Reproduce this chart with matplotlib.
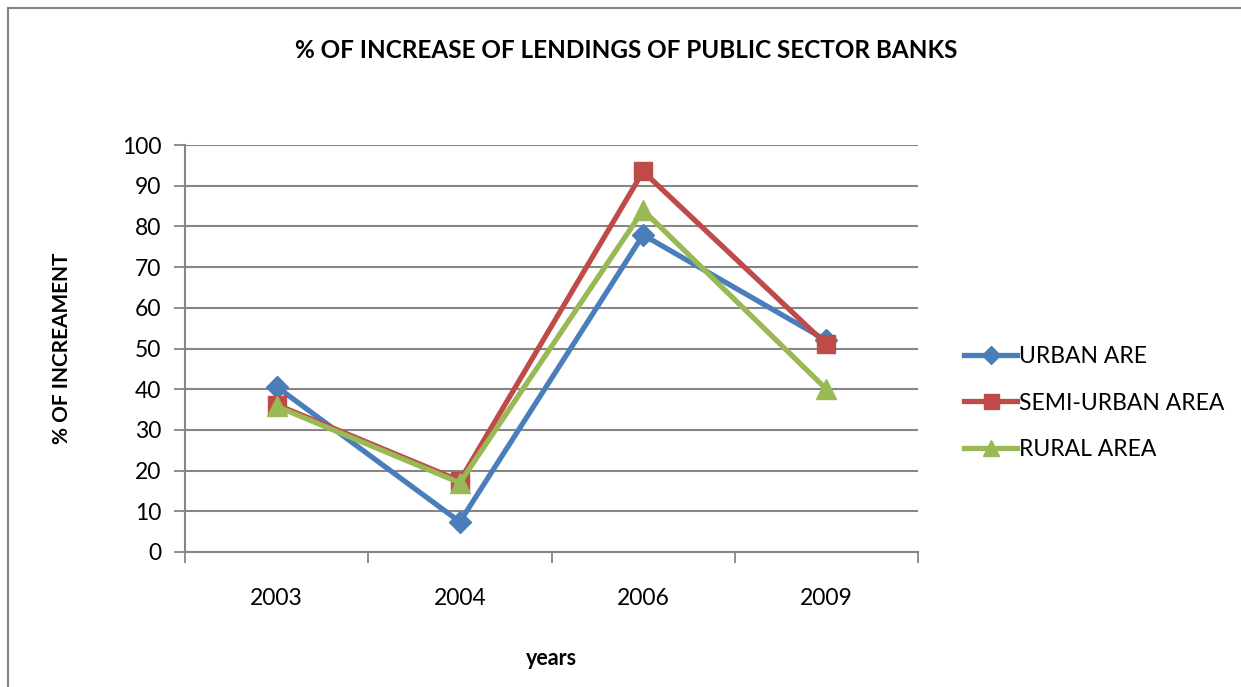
import matplotlib.pyplot as plt
from matplotlib.lines import Line2D

years = ['2003', '2004', '2006', '2009']
urban = [40.6, 7.4, 77.9, 52.0]
semi_urban = [36.2, 17.5, 93.5, 51.0]
rural = [35.8, 17.0, 84.0, 40.0]

plt.rcParams['font.family'] = ['Lato', 'DejaVu Sans']

W, H = 1241, 687
fig = plt.figure(figsize=(W / 100, H / 100), dpi=100)
# chart area frame (left and top edges visible)
fig.lines.append(Line2D([8 / W, 8 / W], [0, 1 - 8 / H], transform=fig.transFigure,
                        color='#868686', lw=1.5))
fig.lines.append(Line2D([8 / W, 1], [1 - 8 / H, 1 - 8 / H], transform=fig.transFigure,
                        color='#868686', lw=1.5))

ax = fig.add_axes([185 / W, 1 - 552 / H, (918 - 185) / W, (552 - 145) / H])

x = list(range(len(years)))
ax.plot(x, urban, '-D', color='#4A7EBB', lw=3.8, ms=11, label='URBAN ARE')
ax.plot(x, semi_urban, '-s', color='#BE4B48', lw=3.8, ms=13.5, label='SEMI-URBAN AREA')
ax.plot(x, rural, '-^', color='#98B954', lw=3.8, ms=14, label='RURAL AREA')

ax.set_xlim(-0.5, 3.5)
ax.set_ylim(0, 100)
ax.set_yticks(range(0, 101, 10))
ax.set_xticks(x)
ax.set_xticklabels(years)
ax.set_xticks([-0.5, 0.5, 1.5, 2.5, 3.5], minor=True)
ax.tick_params(axis='x', which='major', length=0, labelsize=16.5, pad=26)
ax.tick_params(axis='x', which='minor', length=8, width=1.3, color='#868686')
ax.tick_params(axis='y', length=8, width=1.3, color='#868686', labelsize=16.5, pad=9)

ax.grid(axis='y', color='#868686', lw=1.5)
ax.set_axisbelow(True)
for side in ['top', 'right']:
    ax.spines[side].set_visible(False)
for side in ['left', 'bottom']:
    ax.spines[side].set_color('#868686')
    ax.spines[side].set_linewidth(1.5)

ax.set_xlabel('years', fontsize=15.5, fontweight='bold', labelpad=28)
ax.set_ylabel('% OF INCREAMENT', fontsize=15, fontweight='bold', labelpad=36)
fig.text(0.5045, 1 - 50 / H, '% OF INCREASE OF LENDINGS OF PUBLIC SECTOR BANKS',
         ha='center', va='center', fontsize=17.5, fontweight='bold')

ax.legend(loc='center left', bbox_to_anchor=(1.035, (552 - 403) / (552 - 145)),
          frameon=False, fontsize=16.5, handlelength=2.3, handletextpad=0.1,
          labelspacing=1.1, markerscale=0.8)

fig.savefig('out.png', dpi=100)
